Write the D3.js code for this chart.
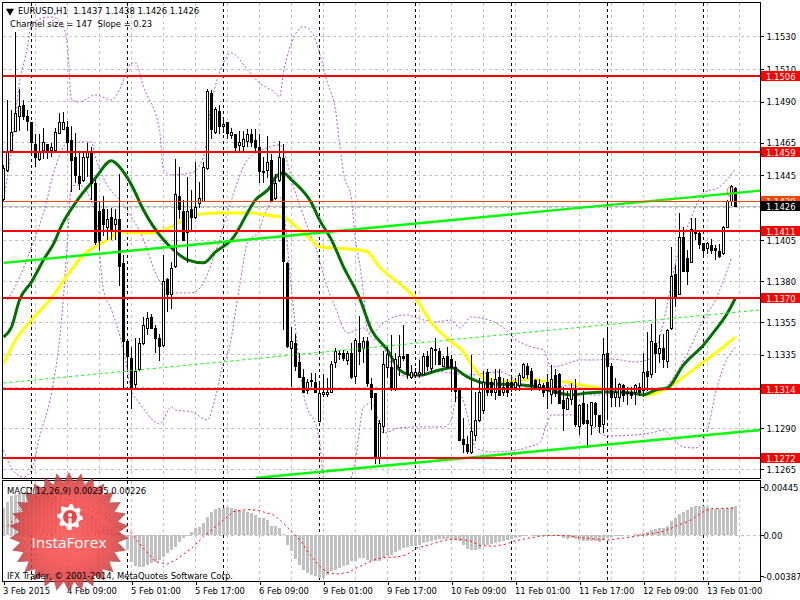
<!DOCTYPE html>
<html><head><meta charset="utf-8">
<script src="https://cdn.jsdelivr.net/npm/d3@7"></script>
<style>
html,body{margin:0;padding:0;background:#fff}
svg{display:block}
text{font-family:"DejaVu Sans Condensed","DejaVu Sans",sans-serif;font-stretch:condensed;font-size:9.4px;fill:#000}
</style></head><body>
<svg id="c" width="800" height="600"></svg>
<script>
// Prices are given in ten-thousandths above 1.1000 (430 = 1.1430)
const opens=[430,448,460,472,481,488,481,477,464,455,460,464,460,460,470,473,474,466,456,444,442,456,459,440,423,424,413,419,415,418,391,343,333,317,326,342,351,358,351,345,341,381,372,389,432,423,410,424,419,428,429,449,495,471,484,475,477,469,470,463,463,466,470,466,462,447,448,454,431,442,455,391,339,342,330,321,313,319,318,294,311,311,312,330,336,336,332,336,322,342,339,343,317,311,272,291,327,327,314,327,334,335,321,322,323,323,334,327,338,337,328,334,332,327,314,283,280,275,286,295,301,324,318,312,321,312,318,318,315,316,321,328,325,319,315,316,318,311,322,323,307,301,308,313,291,305,295,292,305,298,292,336,328,309,309,316,312,312,312,315,313,325,323,342,336,339,331,351,384,372,407,394,392,410,409,403,400,402,400,398,397,413,429,437];
const highs=[451,491,485,533,498,491,485,477,470,470,474,464,465,474,483,484,478,475,471,459,460,465,462,442,429,432,424,425,424,446,396,343,340,345,345,358,361,360,353,348,396,382,392,455,450,430,444,436,453,441,453,498,497,487,488,480,477,474,470,472,472,473,473,473,470,456,469,458,446,466,464,392,352,348,336,326,320,324,324,318,323,321,331,339,338,338,337,342,345,359,346,346,321,311,295,337,340,347,336,347,353,335,329,327,332,336,337,340,345,339,334,340,335,331,314,296,285,335,312,321,325,326,321,326,326,321,320,321,321,324,330,330,327,320,320,318,323,329,326,324,315,313,318,320,305,313,305,306,306,298,345,352,330,321,318,317,315,315,317,318,336,349,354,370,347,348,351,401,390,422,413,399,419,419,410,403,404,406,402,403,414,430,439,438];
const lows=[429,447,459,472,472,479,472,460,450,454,455,455,456,460,470,473,459,435,440,436,441,444,430,402,399,408,405,405,405,377,314,326,302,314,325,341,347,351,336,331,340,361,363,388,418,405,391,411,418,425,429,448,467,470,470,471,467,467,459,460,460,462,462,459,440,440,443,429,430,441,350,339,315,325,321,312,311,315,312,294,309,309,312,327,332,331,329,320,317,329,330,315,301,268,268,287,321,313,313,322,331,320,320,321,321,323,325,324,329,329,328,326,312,306,283,275,274,274,282,294,299,310,310,307,310,310,309,312,313,313,320,320,313,315,313,309,302,305,309,305,288,301,304,291,286,292,278,286,291,287,287,297,303,303,303,306,304,308,304,310,309,313,321,324,330,327,327,350,364,372,386,378,391,405,400,394,397,397,393,394,396,413,426,426];
const closes=[449,459,471,483,487,481,478,465,456,459,465,459,462,471,477,477,465,454,445,440,456,459,440,404,405,415,418,411,418,389,343,334,315,325,342,353,357,351,345,340,380,372,388,433,424,405,423,419,425,431,450,496,473,485,475,476,470,471,462,465,467,470,465,462,447,447,453,429,440,456,392,340,343,328,321,312,318,319,312,311,312,312,329,337,336,333,336,321,344,337,343,317,309,272,293,329,335,314,332,334,333,323,324,324,324,334,328,339,338,329,333,327,327,312,283,280,276,288,295,312,318,312,312,320,310,315,312,315,318,322,329,323,316,315,317,312,313,320,311,305,302,308,314,292,304,293,293,306,298,291,335,328,309,312,317,310,312,310,316,312,324,322,343,336,339,332,350,383,370,407,386,386,412,410,402,399,403,399,399,395,413,429,438,426];

// Moving averages and bands: read at these bar numbers
const maFastBars=[0,2,4,7,10,13,14,18,23,27,28,30,32,35,40,42,46,50,53,57,63,67,68,70,72,77,79,82,85,89,92,96,99,102,104,109,112,116,120,132,136,142,146,151,157,160,163,166,170,175,178,181,183];
const maFast=[345.9,352,368.6,379.6,393.1,405.4,411.5,428,443.3,453.8,452.5,447,439,423.7,405.4,400.4,393.1,391.3,398,405.4,429.9,439,443.9,446.4,442.1,428,417.6,405.4,388.8,369.8,350.2,337.9,325.7,322.6,322.6,325.7,327,321.4,317.7,315.9,313.4,310.4,311.6,312.2,311.6,310.4,313.4,314.7,328.8,341,350.2,360.6,369.8];
const maSlowBars=[0,3,7,12,16,20,26,29,37,42,45,48,53,62,67,70,72,75,77,79,89,91,94,100,103,107,112,115,117,120,122,127,132,134,140,144,149,157,161,163,166,170,175,179,183];
const maSlow=[329.4,344.1,356.3,369.8,383.9,396.2,405.4,410.3,409.6,413.3,417.6,420.7,421.9,421.9,420.1,419.4,415.8,409.6,405.4,401.1,399.2,398,388.8,376.6,369.8,354.5,342.8,336.7,328.8,320.8,319.6,318.4,320.2,319,318.4,316.5,314.7,311.6,310.4,311.6,314.7,321.4,330.6,337.9,345.9];
const bandUpperBars=[0,2,4,6,7,12,15,16,17,19,23,27,29,32,33,35,39,40,42,47,50,52,54,57,61,64,68,69,70,72,75,77,79,81,83,84,85,87,88,89,90,91,92,95,97,101,104,108,112,114,117,119,124,129,132,135,137,140,144,148,152,158,162,165,168,172,175,179,183];
const bandUpper=[429.9,460.5,501.5,523.6,538.3,542,535.9,523.6,491.1,489.9,494.2,491.1,497.3,513.8,513.8,499.1,472.8,448.2,445.2,446.4,456.2,489.3,507.7,519.9,509.5,501.5,495.4,493,507.7,526,535.9,532.8,519.9,501.5,485,464.8,446.4,429.9,405.4,391.3,372.9,350.2,348.4,354.5,357.6,359.4,357,355.1,356.3,351.4,358.2,357.6,353.3,342.8,339.8,337.9,327.5,328.8,331.8,331.8,332.4,330.6,333,355.1,391.3,419.4,434.1,437.8,448.9];
const bandMidBars=[1,4,7,10,13,16,22,23,25,30,35,38,42,47,50,53,57,61,66,69,73,76,78,81,83,86,90,92,95,97,99,103,109,116,124,132,137,142,147,154,159,163,166,171,175,178,182];
const bandMid=[368.6,382.1,401.1,421.9,450.1,464.8,465.4,456.2,443.3,426.8,405.4,385.1,372.9,372.9,379,398,429.9,454.4,461.7,463.6,434.1,413.3,401.1,375.9,363.7,348.4,351.4,345.9,339.8,328.8,322.6,321.4,324.5,322.6,324.5,314.7,314.7,316.5,310.4,310.4,312.2,312.2,316.5,336.1,356.3,368.6,394.3];
const bandLowerBars=[0,2,5,7,9,12,14,15,16,17,19,23,25,27,30,32,34,38,39,42,43,47,51,53,55,56,59,61,64,65,69,70,72,75,79,80,83,87,88,90,92,95,99,104,110,112,113,114,117,118,122,127,132,134,136,137,142,147,150,152,162,165,167,170,173,176,178,180,183];
const bandLower=[276.7,265.7,260.1,264.4,284.6,311.6,344.1,370.4,405.4,438.4,439,420.7,374.7,362.5,337.9,313.4,305.5,293.8,292.6,303,301.2,300,295.1,309.2,330,334.9,376.6,403.5,411.5,419.4,431.7,423.7,374.7,311.6,282.8,260.1,246,260.1,270.6,303,305.5,287,290.2,290.8,290.8,295.1,307.3,310.4,287.7,277.9,275.5,276.1,279.1,281,293.8,298.1,298.1,292,285.9,285.3,287.1,288.9,284.6,278.5,277.9,288.9,311.6,327.5,339.8];

// MACD in 0.00001 units
const macdHist=[249,312,365,374,390,390,380,380,374,365,374,365,358,349,327,312,302,280,265,234,218,203,187,156,109,93,78,53,31,25,0,-140,-249,-290,-302,-296,-280,-265,-249,-234,-203,-171,-140,-109,-62,-31,-9,31,62,78,109,171,218,240,249,256,265,256,240,234,227,218,203,187,156,156,140,87,81,65,12,-90,-153,-221,-277,-324,-355,-371,-386,-402,-402,-371,-340,-324,-308,-293,-277,-246,-240,-215,-215,-231,-246,-246,-246,-215,-199,-184,-162,-137,-122,-115,-106,-100,-90,-75,-69,-53,-44,-37,-37,-34,-37,-44,-59,-90,-131,-143,-143,-131,-90,-90,-81,-75,-65,-53,-44,-34,-31,-22,-6,-3,0,-6,-6,-6,-6,-3,-6,-12,-28,-34,-28,-37,-44,-59,-59,-59,-59,-69,-44,-28,-19,-12,-6,-3,-3,0,6,9,19,28,50,59,69,69,81,134,159,199,212,231,259,274,274,274,262,246,243,243,243,252,262,268];
const signalBars=[1,3,6,9,11,14,18,20,22.5,25,27.5,29,32,35,38,41,43,47,50,54,57.5,61,64,67.5,69.5,71.6,74.1,76.6,78.7,80.8,83.3,86.2,88.3,90.8,93.3,95.8,98.3,100.8,103.3,106.6,110,113.3,116.6,119,122.4,125.8,127.4,130,134,136.6,140.8,145,151,155,160,165,167,172,175,177,183];
const signalLine=[84,156,296,365,374,352,312,265,218,187,109,62,16,-125,-249,-271,-234,-125,-16,109,218,240,227,187,128,50,-44,-184,-277,-349,-365,-349,-308,-262,-224,-209,-206,-184,-122,-90,-50,-37,-53,-97,-106,-84,-59,-37,-12,-3,-6,-28,-47,-28,0,34,65,143,221,246,252];

// Levels and trend lines
const levels=[506,459,411,370,314,272];
const levelLabels=["1.1506","1.1459","1.1411","1.1370","1.1314","1.1272"];
const trendTopBars=[0,189.25],trendTop=[391.3,435.6];
const trendBottomBars=[63,189.25],trendBottom=[259.5,288.9];
const trendDashBars=[0,189.25],trendDash=[317.7,362.5];
const askPrice=429,bidPrice=426;

// Axis ticks
const priceTicks=[530,510,490,465,445,425,405,380,355,335,315,290,265];
const priceTickLabels=["1.1530","1.1510","1.1490","1.1465","1.1445","1.1425","1.1405","1.1380","1.1355","1.1335","1.1315","1.1290","1.1265"];
const macdTicks=[445,0,-387];
const macdTickLabels=["0.00445","0.00","-0.00387"];
const timeTickBars=[0,16,32,48,64,80,96,112,128,144,160,176];
const timeTickLabels=["3 Feb 2015","4 Feb 09:00","5 Feb 01:00","5 Feb 17:00","6 Feb 09:00","9 Feb 01:00","9 Feb 17:00","10 Feb 09:00","11 Feb 01:00","11 Feb 17:00","12 Feb 09:00","13 Feb 01:00"];
const gridBars=d3.range(8,185,8);
const dayBars=[7,31,55,79,103,127,151,175];

const svg=d3.select("#c");
const x=d3.scaleLinear().domain([0,189.25]).range([3.5,760.5]);
const y=d3.scaleLinear().domain([551.1,259.5]).range([2,478]);
const ym=d3.scaleLinear().domain([514,-439]).range([480,582]);
const snap=v=>Math.round(v-.5)+.5;

const defs=svg.append("defs");
defs.append("clipPath").attr("id","cpMain").append("rect").attr("x",3).attr("y",3).attr("width",757).attr("height",475);
defs.append("clipPath").attr("id","cpMacd").append("rect").attr("x",3).attr("y",481).attr("width",757).attr("height",100);
const rg=defs.append("radialGradient").attr("id","burst");
[[0,"#ff5555"],[.55,"#f24545"],[.82,"#d94040"],[1,"#a84848"]].forEach(s=>rg.append("stop").attr("offset",s[0]).attr("stop-color",s[1]));

// grids
const main=svg.append("g").attr("clip-path","url(#cpMain)");
const macd=svg.append("g").attr("clip-path","url(#cpMacd)");
const gridStyle=s=>s.attr("stroke","#c0c0c0").attr("stroke-dasharray","3 3").attr("shape-rendering","crispEdges");
main.selectAll(".gh").data(priceTicks).join("line").call(gridStyle).attr("x1",3).attr("x2",760).attr("y1",d=>snap(y(d))).attr("y2",d=>snap(y(d)));
[main,macd].forEach((g,k)=>{
  const [a,b]=k?[481,581]:[3,478];
  g.selectAll(".gv").data(gridBars).join("line").call(gridStyle).attr("x1",d=>x(d)).attr("x2",d=>x(d)).attr("y1",a).attr("y2",b);
  g.selectAll(".dv").data(dayBars).join("line").attr("stroke","#000").attr("stroke-dasharray","3 3").attr("shape-rendering","crispEdges")
   .attr("x1",d=>x(d)).attr("x2",d=>x(d)).attr("y1",a).attr("y2",b);
});
macd.append("line").call(gridStyle).attr("x1",3).attr("x2",760).attr("y1",snap(ym(0))).attr("y2",snap(ym(0)));

// bid/ask
main.append("line").attr("x1",3).attr("x2",760).attr("y1",snap(y(bidPrice))).attr("y2",snap(y(bidPrice))).attr("stroke","#c0c0c0").attr("shape-rendering","crispEdges");

// indicators
const lineOf=(bars,vals,ys,curve)=>d3.line().curve(curve||d3.curveLinear).x((d,i)=>x(bars[i])).y(d=>ys(d))(vals);
[[bandUpperBars,bandUpper],[bandMidBars,bandMid],[bandLowerBars,bandLower]].forEach(([b,v])=>
  main.append("path").attr("d",lineOf(b,v,y,d3.curveMonotoneX)).attr("fill","none").attr("stroke","#b455d8").attr("stroke-dasharray","2 2").attr("stroke-width",1));
main.append("path").attr("d",lineOf(maSlowBars,maSlow,y,d3.curveMonotoneX)).attr("fill","none").attr("stroke","#ffff00").attr("stroke-width",3);
main.append("path").attr("d",lineOf(maFastBars,maFast,y,d3.curveMonotoneX)).attr("fill","none").attr("stroke","#007000").attr("stroke-width",3);

// candles
const cg=main.append("g").attr("shape-rendering","crispEdges");
const bars=d3.range(opens.length);
cg.selectAll(".w").data(bars).join("line").attr("stroke","#000")
  .attr("x1",i=>x(i)).attr("x2",i=>x(i)).attr("y1",i=>y(highs[i])).attr("y2",i=>y(lows[i]));
cg.selectAll(".b").data(bars).join("rect")
  .attr("x",i=>x(i)-1).attr("width",2)
  .attr("y",i=>snap(y(Math.max(opens[i],closes[i]))))
  .attr("height",i=>Math.max(1,Math.round(Math.abs(y(opens[i])-y(closes[i])))))
  .attr("fill",i=>closes[i]>=opens[i]?"#fff":"#000").attr("stroke","#000");

// trend lines
main.append("path").attr("d",lineOf(trendDashBars,trendDash,y)).attr("fill","none").attr("stroke","#00ff00").attr("stroke-dasharray","3 3");
main.append("path").attr("d",lineOf(trendTopBars,trendTop,y)).attr("fill","none").attr("stroke","#00ff00").attr("stroke-width",2.4);
main.append("path").attr("d",lineOf(trendBottomBars,trendBottom,y)).attr("fill","none").attr("stroke","#00ff00").attr("stroke-width",2.4);

// level lines
main.selectAll(".lv").data(levels).join("line").attr("stroke","#ff0000").attr("stroke-width",2).attr("shape-rendering","crispEdges")
  .attr("x1",3).attr("x2",760).attr("y1",d=>Math.round(y(d))).attr("y2",d=>Math.round(y(d)));
main.append("line").attr("x1",3).attr("x2",760).attr("y1",snap(y(askPrice))).attr("y2",snap(y(askPrice))).attr("stroke","#ff4500").attr("shape-rendering","crispEdges");
main.append("ellipse").attr("cx",x(181.7)).attr("cy",y(435)).attr("rx",3).attr("ry",5).attr("fill","none").attr("stroke","#ff4500").attr("stroke-width",.7);

// MACD
const mb=macd.append("g").attr("shape-rendering","crispEdges");
mb.selectAll("rect").data(macdHist).join("rect").attr("x",(d,i)=>x(i)-1.5).attr("width",3)
  .attr("y",d=>Math.min(ym(d),ym(0))).attr("height",d=>Math.abs(ym(d)-ym(0))).attr("fill","#c0c0c0");
macd.append("path").attr("d",lineOf(signalBars,signalLine,ym)).attr("fill","none").attr("stroke","#ff0000").attr("stroke-dasharray","2 3");

// frames
[[2.5,2.5,758,476],[2.5,480.5,758,101]].forEach(r=>svg.append("rect").attr("x",r[0]).attr("y",r[1]).attr("width",r[2]).attr("height",r[3])
  .attr("fill","none").attr("stroke","#000").attr("shape-rendering","crispEdges"));

// axes
const styleAxis=g=>{g.select(".domain").remove();g.selectAll("line").attr("stroke","#000").attr("shape-rendering","crispEdges");g.selectAll("text").attr("fill","#000");};
svg.append("g").attr("transform","translate(760.5,0)")
  .call(d3.axisRight(y).tickValues(priceTicks).tickFormat((d,i)=>priceTickLabels[i]).tickSize(3).tickPadding(3)).call(styleAxis);
svg.append("g").attr("transform","translate(760.5,0)")
  .call(d3.axisRight(ym).tickValues(macdTicks).tickFormat((d,i)=>macdTickLabels[i]).tickSize(3).tickPadding(0)).call(styleAxis);
const xa=svg.append("g").attr("transform","translate(0,581.5)")
  .call(d3.axisBottom(x).tickValues(timeTickBars).tickFormat((d,i)=>timeTickLabels[i]).tickSize(3).tickPadding(3)).call(styleAxis);
xa.selectAll("text").attr("text-anchor","start").attr("dx",-1);

// price tags
const tag=(v,label,bg)=>{
  const cy=Math.round(y(v));
  svg.append("rect").attr("x",761).attr("y",cy-5).attr("width",39).attr("height",10).attr("fill",bg);
  svg.append("text").attr("x",766).attr("y",cy+4).attr("fill","#fff").style("fill","#fff").text(label);
};
levels.forEach((v,i)=>tag(v,levelLabels[i],"#ff0000"));
tag(askPrice,"1.1429","#ff4500");
tag(bidPrice,"1.1426","#000");

// watermark
const logo=svg.append("g").attr("transform","translate(69,532)");
const spikes=d3.range(60);
logo.append("path").attr("d",d3.lineRadial().angle(i=>i/60*2*Math.PI).radius(i=>i%2?50:60).curve(d3.curveLinearClosed)(spikes))
  .attr("fill","url(#burst)").attr("opacity",.86);
const gear=logo.append("g").attr("transform","translate(1,-15)");
gear.append("path").attr("d",d3.lineRadial().angle(i=>i/32*2*Math.PI).radius(i=>i%4<2?13:10).curve(d3.curveLinearClosed)(d3.range(32))).attr("fill","#fff");
gear.append("circle").attr("r",7).attr("fill","#ee4444");
gear.append("circle").attr("cy",-2).attr("r",2).attr("fill","#fff");
gear.append("rect").attr("x",-1.5).attr("y",1).attr("width",3).attr("height",12).attr("fill","#fff");
logo.append("text").attr("text-anchor","middle").attr("y",16).attr("x",0)
  .style("font-family","'Open Sans'").style("font-stretch","normal").style("font-size","15.3px").style("fill","#fff").text("InstaForex");

// captions
svg.append("path").attr("d",d3.symbol(d3.symbolTriangle,28)()).attr("transform","translate(10,11) rotate(180)").attr("fill","#000");
svg.append("text").attr("x",18).attr("y",14).text("EURUSD,H1  1.1437 1.1438 1.1426 1.1426").attr("xml:space","preserve");
svg.append("text").attr("x",10).attr("y",27).text("Channel size = 147  Slope = 0.23").attr("xml:space","preserve");
svg.append("text").attr("x",7).attr("y",494).text("MACD(12,26,9) 0.00235 0.00226");
svg.append("text").attr("x",7).attr("y",579).text("IFX Trader, © 2001-2014, MetaQuotes Software Corp.");
</script>
</body></html>
